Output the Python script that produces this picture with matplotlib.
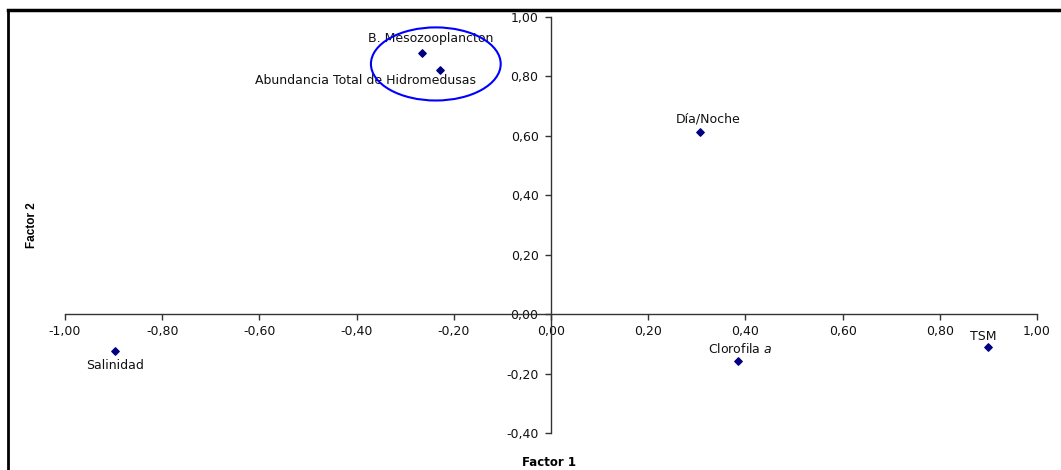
import matplotlib
matplotlib.use("Agg")
import matplotlib.pyplot as plt
from matplotlib.patches import Ellipse
from matplotlib.lines import Line2D
from matplotlib.ticker import FuncFormatter

plt.rcParams["font.family"] = ["DejaVu Sans"]

# Factor loadings
variables = ["B. Mesozooplancton", "Abundancia Total de Hidromedusas", "Día/Noche",
             "Salinidad", "Clorofila $\\it{a}$", "TSM"]
factor1 = [-0.265, -0.228, 0.307, -0.897, 0.385, 0.899]
factor2 = [0.879, 0.822, 0.613, -0.125, -0.158, -0.111]
# label offsets in pixels relative to each point
label_dx = [8, -75, 8, 0, 2, -5]
label_dy = [14, -11, 13, -14, 12, 11]

x_ticks = [-1.0, -0.8, -0.6, -0.4, -0.2, 0.0, 0.2, 0.4, 0.6, 0.8, 1.0]
y_ticks = [-0.4, -0.2, 0.0, 0.2, 0.4, 0.6, 0.8, 1.0]

W, H = 1061, 470
fig = plt.figure(figsize=(W / 100, H / 100), dpi=100)
ax = fig.add_axes([65 / W, 1 - 433 / H, (1037 - 65) / W, (433 - 17) / H])
ax.set_xlim(-1.0, 1.0)
ax.set_ylim(-0.4, 1.0)

ax.spines["left"].set_position(("data", 0))
ax.spines["bottom"].set_position(("data", 0))
ax.spines["top"].set_visible(False)
ax.spines["right"].set_visible(False)
for s in ("left", "bottom"):
    ax.spines[s].set_color("#333333")
    ax.spines[s].set_linewidth(1)

fmt = FuncFormatter(lambda v, p: f"{v:.2f}".replace(".", ",").replace("-0,00", "0,00"))
ax.set_xticks(x_ticks)
ax.set_yticks(y_ticks)
ax.xaxis.set_major_formatter(fmt)
ax.yaxis.set_major_formatter(fmt)
ax.tick_params(axis="both", direction="out", length=4, width=1, color="#333333",
               labelsize=9, labelcolor="#111111")
ax.tick_params(axis="x", pad=4)
ax.tick_params(axis="y", pad=5)

ax.scatter(factor1, factor2, marker="D", s=14, color="#000080", zorder=3)
for name, x, y, dx, dy in zip(variables, factor1, factor2, label_dx, label_dy):
    ax.annotate(name, (x, y), xytext=(dx, dy), textcoords="offset pixels",
                ha="center", va="center", fontsize=9, color="#111111")

ax.add_patch(Ellipse((-0.237, 0.842), 0.267, 0.246, fill=False,
                     edgecolor="#0000FF", linewidth=1.5, zorder=4))

fig.text(549 / W, 1 - 462 / H, "Factor 1", ha="center", va="center",
         fontsize=8.5, fontweight="bold")
fig.text(32 / W, 1 - 225 / H, "Factor 2", ha="center", va="center", rotation=90,
         fontsize=8.5, fontweight="bold",
         family=["Liberation Sans Narrow", "Liberation Sans", "DejaVu Sans"])

# frame lines of the original cropped chart area
fig.add_artist(Line2D([8 / W, 1], [1 - 10 / H, 1 - 10 / H], color="black", lw=2.5))
fig.add_artist(Line2D([8 / W, 8 / W], [0, 1 - 10 / H], color="black", lw=2))

fig.savefig("out.png", dpi=100)
